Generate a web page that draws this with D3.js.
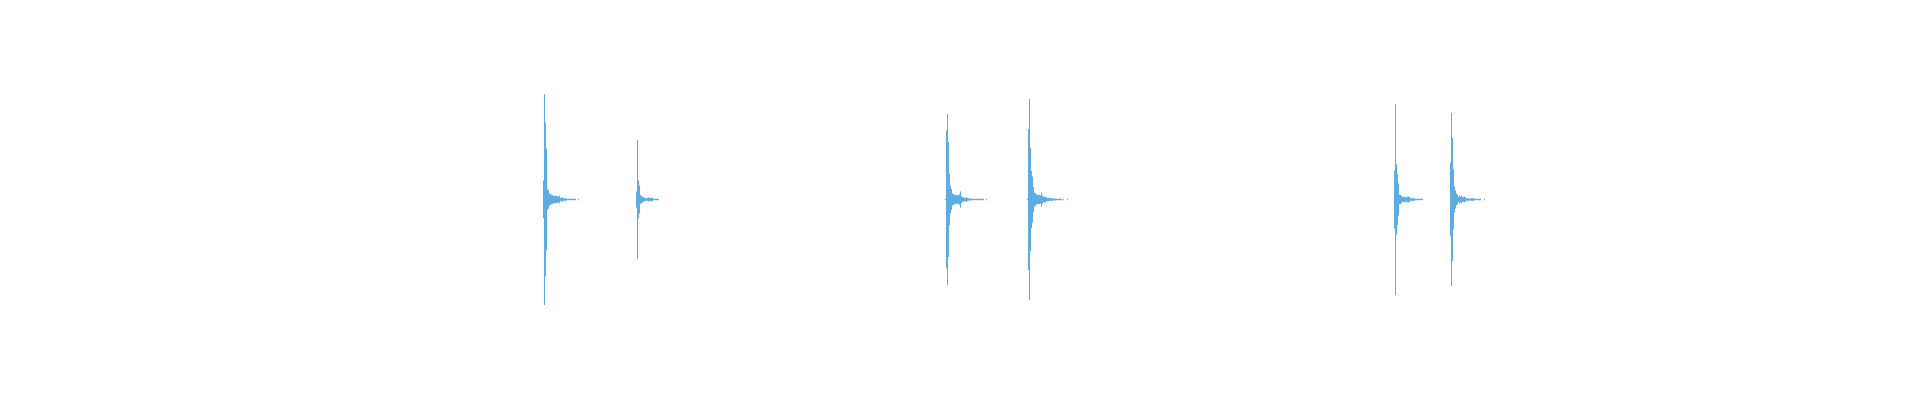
<!DOCTYPE html>
<html>
<head>
<meta charset="utf-8">
<script src="https://cdn.jsdelivr.net/npm/d3@7"></script>
<style>
  html, body { margin: 0; padding: 0; background: #fff; }
  svg { display: block; }
</style>
</head>
<body>
<svg></svg>
<script>
// onset of each hit, seconds
const hitTimes = [3.394, 3.975, 5.906, 6.419, 8.7125, 9.0625]

// peak amplitude per display column after each onset (full scale = 1)
const hit1 = [0.158, 0.879, 0.642, 0.425, 0.088, 0.075, 0.05, 0.046, 0.039, 0.036,
  0.031, 0.031, 0.031, 0.028, 0.028, 0.023, 0.033, 0.012, 0.014, 0.019,
  0.008, 0.013, 0.01, 0.008, 0.006, 0.006, 0.006, 0.006, 0.006, 0.006,
  0.006, 0.006, 0.006, 0, 0, 0.006]
const hit2 = [0.067, 0.496, 0.158, 0.117, 0.038, 0.029, 0.025, 0.018, 0.017, 0.011,
  0.011, 0.011, 0.017, 0.014, 0.013, 0.013, 0.013, 0.006, 0.006, 0.006,
  0.006, 0.006, 0.006]
const hit3 = [0.006, 0.575, 0.713, 0.479, 0.213, 0.113, 0.088, 0.05, 0.042, 0.043,
  0.033, 0.039, 0.036, 0.033, 0.046, 0.068, 0.028, 0.019, 0.018, 0.017,
  0.013, 0.021, 0.011, 0.01, 0.008, 0.008, 0.008, 0.006, 0.006, 0.006,
  0.006, 0.006, 0.006, 0.006, 0.006, 0.006, 0.006, 0.006, 0.006, 0, 0, 0.006]
const hit4 = [0.006, 0.588, 0.838, 0.429, 0.238, 0.192, 0.104, 0.058, 0.053, 0.042,
  0.038, 0.038, 0.038, 0.033, 0.058, 0.033, 0.023, 0.023, 0.023, 0.015,
  0.015, 0.015, 0.011, 0.011, 0.01, 0.013, 0.008, 0.008, 0.008, 0.006,
  0.006, 0.006, 0.006, 0.006, 0.006, 0, 0.006, 0, 0, 0, 0.006]
const hit5 = [0.242, 0.796, 0.292, 0.213, 0.133, 0.038, 0.038, 0.031, 0.019, 0.023,
  0.023, 0.018, 0.019, 0.023, 0.023, 0.023, 0.011, 0.01, 0.01, 0.01,
  0.011, 0.006, 0.006, 0.006, 0.006, 0.006, 0.006, 0.006, 0.006]
const hit6 = [0.308, 0.721, 0.513, 0.25, 0.108, 0.075, 0.05, 0.039, 0.021, 0.035,
  0.023, 0.031, 0.023, 0.018, 0.023, 0.018, 0.01, 0.011, 0.01, 0.008,
  0.008, 0.011, 0.011, 0.011, 0.006, 0.006, 0.006, 0.006, 0.006, 0.006,
  0.006, 0, 0, 0, 0.006]

const hits = [hit1, hit2, hit3, hit4, hit5, hit6]

const width = 1920
const height = 400
const duration = 12
const colsPerSecond = 160

const svg = d3.select('svg')
  .attr('width', width)
  .attr('height', height)

const x = d3.scaleLinear()
  .domain([0, duration])
  .range([0, width])

const y = d3.scaleLinear()
  .domain([-1, 1])
  .range([319.5, 79.5])

// flatten into one column list
const cols = []
hits.forEach((peaks, h) => {
  peaks.forEach((a, i) => {
    if (a > 0) cols.push({ t: hitTimes[h] + i / colsPerSecond, a: a })
  })
})

svg.append('g')
  .attr('class', 'wave')
  .selectAll('rect')
  .data(cols)
  .enter()
  .append('rect')
  .attr('x', d => Math.round(x(d.t)))
  .attr('width', 1)
  .attr('y', d => y(d.a))
  .attr('height', d => y(-d.a) - y(d.a))
  .attr('fill', '#5dade2')
</script>
</body>
</html>
